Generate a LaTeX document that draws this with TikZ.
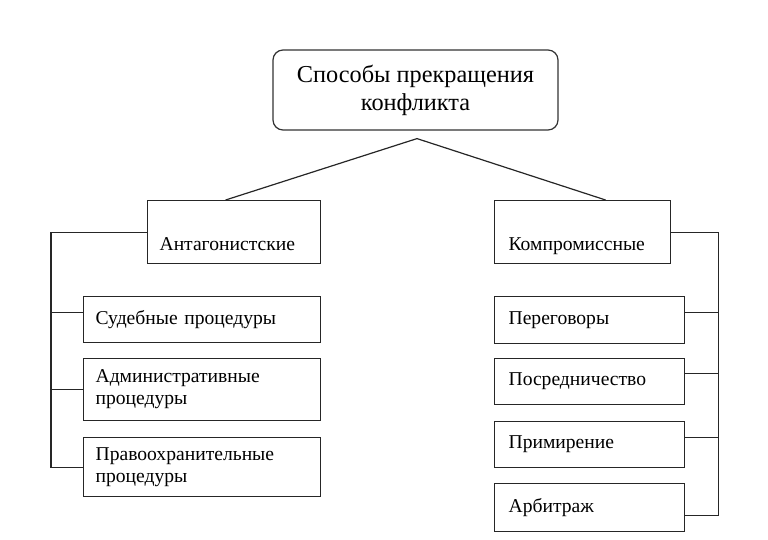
\documentclass[tikz,border=0pt]{standalone}
\usepackage{fontspec}
\setmainfont{Liberation Serif}
\usetikzlibrary{positioning,calc}

\tikzset{
  link/.style={line width=1.2pt, black!85},
  rootbox/.style={draw=black!80, line width=1.2pt, rounded corners=10pt, minimum width=285pt, minimum height=80pt, inner sep=0pt, align=center, font=\fontsize{24.3}{28}\selectfont},
  groupbox/.style={draw=black!85, line width=1.2pt, anchor=north west, minimum height=63pt, inner xsep=12pt, inner ysep=0pt, text height=36pt, text depth=0pt, text width=#1, align=left, font=\fontsize{19.6}{22}\selectfont},
  itembox/.style={draw=black!85, line width=1.2pt, anchor=north west, minimum height=46pt, inner xsep=12pt, text width=#1, align=left, font=\fontsize{19.6}{22}\selectfont}
}

\begin{document}
\begin{tikzpicture}[x=1pt, y=-1pt]
    \useasboundingbox (0,0) rectangle (768,540);

    % Top box
    \node[rootbox] (root) at (415.5,90) {Способы прекращения\\конфликта};

    % Groups
    \node[groupbox=149pt] (anta) at (147,200) {Антагонистские};
    \node[groupbox=148pt, inner xsep=14pt] (komp) at (494,200) {Компромиссные};

    % Left items
    \node[itembox=213pt] (court) at (83,296) {Судебные процедуры};
    \node[itembox=213pt, minimum height=62pt] (admin) at (83,358) {Административные\\процедуры};
    \node[itembox=213pt, minimum height=59pt] (law) at (83,437) {Правоохранительные\\процедуры};

    % Right items
    \node[itembox=162pt, inner xsep=14pt, minimum height=47pt] (talks) at (494,296) {Переговоры};
    \node[itembox=162pt, inner xsep=14pt] (medi) at (494,358) {Посредничество};
    \node[itembox=162pt, inner xsep=14pt] (recon) at (494,421) {Примирение};
    \node[itembox=162pt, inner xsep=14pt, minimum height=48pt] (arb) at (494,483) {Арбитраж};

    % Fork from top box
    \coordinate (fork) at ($(root.south)+(1.5pt,-8pt)$);
    \draw[link] ([xshift=-8.5pt]anta.north) -- (fork) -- ([xshift=23pt]komp.north);

    % Left bracket
    \draw[link] (anta.west) -- ++(-96pt,0) |- (law.west);
    \draw[link] ([yshift=7pt]court.west) -- ++(-32pt,0);
    \draw[link] (admin.west) -- ++(-32pt,0);

    % Right bracket
    \draw[link] (komp.east) -- ++(47pt,0) |- ([yshift=-8pt]arb.east);
    \draw[link] ([yshift=7.5pt]talks.east) -- ++(33pt,0);
    \draw[link] ([yshift=8pt]medi.east) -- ++(33pt,0);
    \draw[link] ([yshift=7pt]recon.east) -- ++(33pt,0);
\end{tikzpicture}
\end{document}
